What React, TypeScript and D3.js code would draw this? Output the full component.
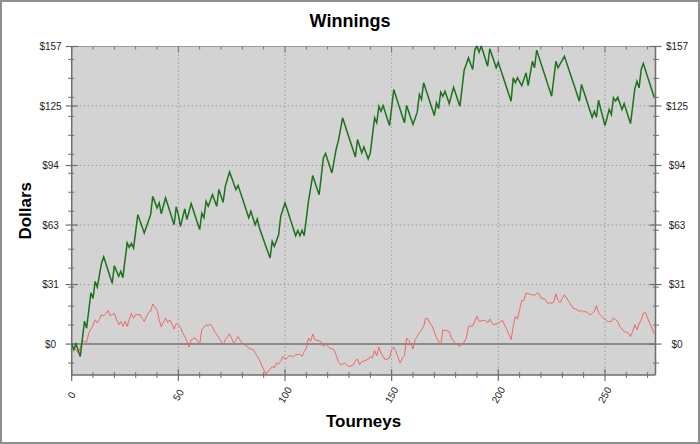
import React from "react";
import * as d3 from "d3";

const title = "Winnings";
const xTitle = "Tourneys";
const yTitle = "Dollars";

const yTickValues = [0, 31.36, 62.72, 94.08, 125.44, 156.8];
const yTickLabels = ["$0", "$31", "$63", "$94", "$125", "$157"];
const yMinorTicks = [-10, 10, 20, 30, 40, 50, 60, 70, 80, 90, 100, 110, 120, 130, 140, 150];
const xMajorTicks = [0, 50, 100, 150, 200, 250];
const xMinorTicks = [10, 20, 30, 40, 60, 70, 80, 90, 110, 120, 130, 140, 160, 170, 180, 190, 210, 220, 230, 240, 260, 270];

const winnings = [
  0, -3, 0, -3.2, -6.5, 2.7, 12, 8.4, 17.7, 27,
  24, 33, 30, 36.4, 42.7, 45.9, 42.4, 38.9, 35.5, 32,
  41.3, 38.5, 35.7, 38.3, 35, 44.2, 53.3, 51, 53, 50.6,
  59.4, 68.2, 65, 61.8, 58.5, 61.7, 65, 68.2, 77.8, 74.8,
  71.7, 74.4, 68.7, 72.9, 77, 73.5, 70, 66.4, 62.9, 72.3,
  68.2, 62, 66.6, 71.2, 65.6, 69.8, 74, 70.6, 67.1, 63.7,
  60.3, 69, 66.5, 75.2, 72.6, 75.6, 78.7, 75.6, 72.6, 81.4,
  78, 74.7, 83.1, 86.9, 90.7, 87.6, 84.5, 81.4, 83.6, 80.2,
  76.8, 73.4, 70, 66.5, 70, 66.4, 62.9, 65.9, 61.2, 58,
  54.8, 51.6, 48.5, 45.4, 54.1, 51.5, 54.5, 57.6, 67.3, 70.8,
  74.4, 71, 67.5, 64, 60.5, 57.1, 59.9, 57.1, 60, 57.1,
  66.1, 75.2, 82, 88.8, 85.4, 82, 78.7, 88.4, 98.1, 100.4,
  97, 93.6, 90.2, 96.5, 102.8, 106.9, 113, 119.2, 115.8, 112.3,
  108.9, 105.4, 102, 98.6, 107.8, 104.2, 100.7, 103.9, 100.7, 97.6,
  100.7, 110, 119.2, 116.6, 125.3, 122.7, 125.7, 122.2, 118.6, 115.1,
  124.6, 134.1, 130.6, 127.1, 123.6, 120.1, 116.6, 125.7, 122.4, 119,
  115.7, 119, 122.2, 131.5, 128.9, 137.7, 134.2, 130.8, 127.3, 123.9,
  120.4, 127.1, 124.1, 132.7, 130.6, 133.2, 130, 126.7, 131, 135.3,
  132, 128.6, 125.3, 134.8, 144.3, 147.5, 150.8, 147.7, 144.7, 155.2,
  157, 153.8, 157, 153.5, 150, 146.4, 155.6, 152.3, 149, 145.6,
  148.5, 145, 141.6, 138.2, 134.8, 131.4, 128, 140.3, 137.7, 140.3,
  138.2, 136.2, 139.5, 142.9, 136.2, 142.6, 149, 145.6, 154.9, 151.4,
  147.9, 144.5, 141, 137.5, 134.1, 130.6, 139.8, 149, 145.5, 147.6,
  149.6, 151.7, 148.3, 144.9, 141.5, 138.2, 134.8, 131.4, 128, 136.8,
  133.3, 129.9, 126.4, 123, 119.5, 122.7, 119.5, 128.5, 124, 119.6,
  115.1, 119.4, 123.6, 120.9, 129.7, 128, 130.1, 126.8, 123.6, 126.7,
  123.2, 119.7, 116.2, 125.3, 134.5, 138.5, 135, 144.7, 147.8, 144.3,
  140.8, 137.3, 133.8, 130.3,
];

const secondSeries = [
  -1, -2, -3, -4.7, -2, 1.4, 1.5, 1, 5.8, 8,
  10, 12.8, 11.2, 13, 15.5, 14.9, 16, 17.7, 15, 15.5,
  16.2, 13, 10.2, 11.9, 9.3, 12, 9.3, 13, 16.3, 13.7,
  15.5, 15.5, 15.5, 13.5, 11.9, 14.5, 16.7, 17.2, 21.1, 19.5,
  18.1, 13, 9, 11.5, 13.7, 11.4, 12.8, 10.5, 7.9, 10.7,
  10, 9, 5.8, 4, 1.5, -1.6, 2.3, 2.8, 3.2, 1.5,
  0.2, 7.5, 9, 10.2, 9.6, 10.5, 9, 6.6, 5, 3.2,
  1.5, -0.4, 2.3, 3.8, 5.4, 3, 0.2, 2, 4, 2,
  0.5, -0.4, -1, -2.1, -2.5, -3, -4.5, -6.5, -8.3, -11,
  -13.5, -15.8, -14.4, -13.5, -11.8, -12.5, -10, -10.5, -9.2, -6.5,
  -8, -7.4, -6, -6.5, -6.5, -5.6, -5.5, -5.3, -6.5, -4,
  -2.1, 3.2, 1.4, 5.3, 2.3, 2, 1.7, 1, -1.2, 0,
  -1, -2.1, -2.5, -3, -6, -9.2, -10.9, -10.5, -10, -11,
  -11.8, -11.5, -10.9, -9, -7.8, -10.9, -9.2, -9, -8.5, -7.9,
  -6.5, -7.3, -3.4, -6.2, -1.6, -4.7, -6.5, -8.3, -7.8, -7.3,
  -3, -1.6, -3.9, -7, -10, -7.3, -6.2, 3.2, 1.9, 0,
  -2.6, 2.3, 4, 6.1, 7.5, 9.3, 13.7, 13.2, 11, 9.3,
  6.6, 3.5, 1.4, -0.4, 7.5, 7.2, 7, 6.6, 3.2, 1.5,
  0.5, -0.5, -1.2, 0.2, 0.9, 3.2, 9.3, 9.5, 9.6, 12,
  14.6, 11.9, 12.2, 12.5, 12.5, 11.1, 13.2, 11.1, 10.2, 10.5,
  11.1, 11.9, 12.5, 10, 7.5, 4.9, 2.3, 9.3, 14.6, 13.2,
  18.1, 23, 23, 26.9, 26.5, 26.1, 26.1, 25.5, 26.9, 26.6,
  24.3, 24, 23.7, 21.6, 21.6, 21.6, 22, 26.5, 23, 21.9,
  24, 26, 24.3, 22.5, 20.7, 19, 18.5, 18.1, 17.2, 17.7,
  16.9, 17.2, 16.3, 15.5, 16, 17.2, 20.2, 16.6, 15, 14,
  13.2, 11.9, 11.9, 11.9, 13.7, 12.8, 11.9, 9.3, 8, 6.6,
  6.2, 5.8, 4, 6.6, 10.2, 7.5, 10.5, 12.8, 16.3, 16.6,
  13.7, 11, 8.5, 5.5,
];

const W = 700;
const H = 444;
const left = 71.7;
const right = 655.5;
const top = 46.5;
const bottom = 375;

export default function App() {
  const x = d3.scaleLinear().domain([0, 273.7]).range([left, right]);
  const y = d3.scaleLinear().domain([-16.3, 156.8]).range([bottom, top]);
  const line = d3
    .line<number>()
    .x((_, i) => x(i))
    .y((d) => y(d));

  const font = "Arial, 'Liberation Sans', sans-serif";
  const axisColor = "#6e6e6e";
  const gridColor = "#9a9a9a";

  return (
    <svg
      width={W}
      height={H}
      style={{ position: "absolute", left: 0, top: 0, display: "block", background: "#fff" }}
      fontFamily={font}
    >
      <rect x={1} y={1} width={W - 2} height={H - 2} fill="#fff" stroke="#8f8f8f" strokeWidth={2} />
      <rect x={left} y={top} width={right - left} height={bottom - top} fill="#d3d3d3" />

      {/* grid */}
      {xMajorTicks.slice(1).map((t) => (
        <line key={"gx" + t} x1={x(t)} x2={x(t)} y1={top} y2={bottom} stroke={gridColor} strokeDasharray="1.5,2.5" />
      ))}
      {yTickValues.slice(1, 5).map((t) => (
        <line key={"gy" + t} x1={left} x2={right} y1={y(t)} y2={y(t)} stroke={gridColor} strokeDasharray="1.5,2.5" />
      ))}
      <line x1={left} x2={right} y1={y(0)} y2={y(0)} stroke="#8a8a8a" strokeWidth={2} />

      {/* frame */}
      <line x1={left} x2={right} y1={top} y2={top} stroke="#9a9a9a" strokeWidth={1} />
      <line x1={right} x2={right} y1={top} y2={bottom} stroke={axisColor} strokeWidth={1.5} />
      <line x1={left} x2={left} y1={top} y2={bottom} stroke={axisColor} strokeWidth={1.5} />
      <line x1={left} x2={right} y1={bottom} y2={bottom} stroke={axisColor} strokeWidth={1.5} />

      {/* x ticks bottom and top */}
      {xMinorTicks.map((t) => (
        <g key={"xm" + t}>
          <line x1={x(t)} x2={x(t)} y1={bottom - 3} y2={bottom + 3} stroke={axisColor} />
          <line x1={x(t)} x2={x(t)} y1={top} y2={top + 3} stroke={axisColor} />
        </g>
      ))}
      {xMajorTicks.map((t) => (
        <g key={"xM" + t}>
          <line x1={x(t)} x2={x(t)} y1={bottom - 6} y2={bottom + 6} stroke={axisColor} strokeWidth={1.2} />
          <line x1={x(t)} x2={x(t)} y1={top} y2={top + 6} stroke={axisColor} />
          <text
            transform={`translate(${x(t)},${395}) rotate(-60)`}
            textAnchor="middle"
            dominantBaseline="central"
            fontSize={10}
            fill="#222"
          >
            {t}
          </text>
        </g>
      ))}

      {/* y ticks left and right */}
      {yMinorTicks.map((t) => (
        <g key={"ym" + t}>
          <line x1={left - 3.5} x2={left + 2.5} y1={y(t)} y2={y(t)} stroke={axisColor} />
          <line x1={right - 2.5} x2={right + 3.5} y1={y(t)} y2={y(t)} stroke={axisColor} />
        </g>
      ))}
      {yTickValues.map((t, i) => (
        <g key={"yM" + t}>
          <line x1={left - 6} x2={left + 6} y1={y(t)} y2={y(t)} stroke={axisColor} strokeWidth={1.2} />
          <line x1={right - 6} x2={right + 6} y1={y(t)} y2={y(t)} stroke={axisColor} strokeWidth={1.2} />
          <text x={50.5} y={y(t)} textAnchor="middle" dominantBaseline="central" fontSize={10} fill="#222">
            {yTickLabels[i]}
          </text>
          <text x={677} y={y(t)} textAnchor="middle" dominantBaseline="central" fontSize={10} fill="#222">
            {yTickLabels[i]}
          </text>
        </g>
      ))}

      {/* series */}
      <g clipPath="url(#plotclip)">
        <path d={line(secondSeries) || ""} fill="none" stroke="#f06565" strokeWidth={1} />
        <path d={line(winnings) || ""} fill="none" stroke="#1b721b" strokeWidth={1.5} />
      </g>
      <defs>
        <clipPath id="plotclip">
          <rect x={left} y={top - 1} width={right - left} height={bottom - top + 2} />
        </clipPath>
      </defs>

      {/* titles */}
      <text x={W / 2} y={27} textAnchor="middle" fontSize={18} fontWeight="bold" fill="#000">
        {title}
      </text>
      <text x={(left + right) / 2} y={427} textAnchor="middle" fontSize={17} fontWeight="bold" fill="#000">
        {xTitle}
      </text>
      <text
        transform={`translate(31,${(top + bottom) / 2}) rotate(-90)`}
        textAnchor="middle"
        fontSize={17}
        fontWeight="bold"
        fill="#000"
      >
        {yTitle}
      </text>
    </svg>
  );
}
